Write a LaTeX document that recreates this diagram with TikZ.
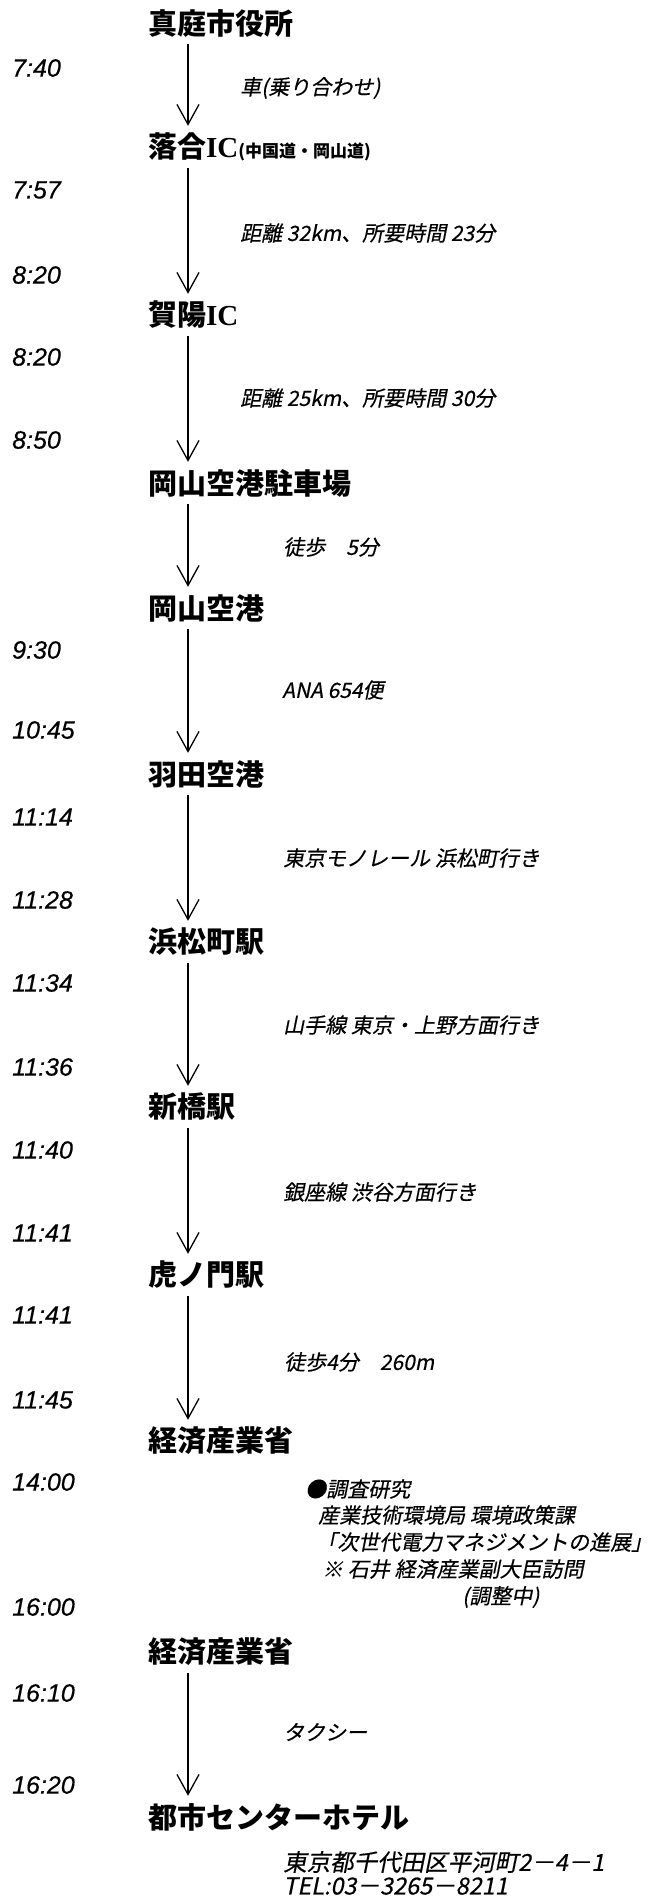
\documentclass[tikz,border=0pt]{standalone}
\usepackage{fontspec}
\usetikzlibrary{arrows.meta}
\setmainfont{Liberation Sans}
\newfontfamily\jpfont{Noto Sans CJK JP}
\newfontfamily\jpit[FakeSlant=0.2,FakeBold=0.4]{Noto Sans CJK JP}
\newfontfamily\timefont[FakeBold=0.4]{Liberation Sans}
\newfontfamily\icfont{Liberation Serif}
\tikzset{
  station/.style={anchor=west, inner sep=0pt, minimum height=42pt, font=\jpfont\bfseries\fontsize{29}{29}\selectfont},
  timelbl/.style={anchor=west, inner sep=0pt, font=\timefont\itshape\fontsize{25}{25}\selectfont},
  route/.style={anchor=west, inner sep=0pt, font=\jpit\fontsize{21}{21}\selectfont},
  addr/.style={route, font=\jpit\fontsize{23.5}{23.5}\selectfont},
  arr/.style={line width=1.3pt, -{Straight Barb[length=20pt,width=22pt,line width=1.3pt]}},
}
\begin{document}
\begin{tikzpicture}[x=1pt,y=-1pt]
\fill[white] (0,0) rectangle (657,1902);
\useasboundingbox (0,0) rectangle (657,1902);
\coordinate (ax) at (188,0);
% stations
\node[station] (s1) at (148,23) {真庭市役所};
\node[station] (s2) at (148,147) {落合{\icfont\bfseries IC}{\fontsize{17}{17}\selectfont(中国道・岡山道)}};
\node[station] (s3) at (148,315) {賀陽{\icfont\bfseries IC}};
\node[station] (s4) at (148,483) {岡山空港駐車場};
\node[station] (s5) at (148,608) {岡山空港};
\node[station] (s6) at (148,774) {羽田空港};
\node[station] (s7) at (148,942) {浜松町駅};
\node[station] (s8) at (148,1107) {新橋駅};
\node[station] (s9) at (148,1275) {虎ノ門駅};
\node[station] (s10) at (148,1441) {経済産業省};
\node[station] (s11) at (148,1652) {経済産業省};
\node[station] (s12) at (148,1817) {都市センターホテル};
% arrows
\draw[arr] (s1.south -| ax) -- (s2.north -| ax);
\draw[arr] (s2.south -| ax) -- (s3.north -| ax);
\draw[arr] (s3.south -| ax) -- (s4.north -| ax);
\draw[arr] (s4.south -| ax) -- (s5.north -| ax);
\draw[arr] (s5.south -| ax) -- (s6.north -| ax);
\draw[arr] (s6.south -| ax) -- (s7.north -| ax);
\draw[arr] (s7.south -| ax) -- (s8.north -| ax);
\draw[arr] (s8.south -| ax) -- (s9.north -| ax);
\draw[arr] (s9.south -| ax) -- (s10.north -| ax);
\draw[arr] (s11.south -| ax) -- (s12.north -| ax);
% times
\node[timelbl] (t1) at (12,68) {7:40};
\node[timelbl] (t2) at (12,190) {7:57};
\node[timelbl] (t3) at (12,275) {8:20};
\node[timelbl] (t4) at (12,357) {8:20};
\node[timelbl] (t5) at (12,440) {8:50};
\node[timelbl] (t6) at (12,650) {9:30};
\node[timelbl] (t7) at (12,730) {10:45};
\node[timelbl] (t8) at (12,817) {11:14};
\node[timelbl] (t9) at (12,900) {11:28};
\node[timelbl] (t10) at (12,983) {11:34};
\node[timelbl] (t11) at (12,1067) {11:36};
\node[timelbl] (t12) at (12,1150) {11:40};
\node[timelbl] (t13) at (12,1233) {11:41};
\node[timelbl] (t14) at (12,1315) {11:41};
\node[timelbl] (t15) at (12,1400) {11:45};
\node[timelbl] (t16) at (12,1482) {14:00};
\node[timelbl] (t17) at (12,1607) {16:00};
\node[timelbl] (t18) at (12,1693) {16:10};
\node[timelbl] (t19) at (12,1785) {16:20};
% route labels
\node[route] (r1) at (240,88) {車(乗り合わせ)};
\node[route] (r2) at (240,233) {距離 32km、所要時間 23分};
\node[route] (r3) at (240,398) {距離 25km、所要時間 30分};
\node[route] (r4) at (283,547) {徒歩　5分};
\node[route] (r5) at (282,690) {ANA 654便};
\node[route] (r6) at (283,858) {東京モノレール 浜松町行き};
\node[route] (r7) at (283,1025) {山手線 東京・上野方面行き};
\node[route] (r8) at (283,1192) {銀座線 渋谷方面行き};
\node[route] (r9) at (284,1362) {徒歩4分　260m};
\node[route] (n1) at (305,1489) {●調査研究};
\node[route] (n2) at (318,1515) {産業技術環境局 環境政策課};
\node[route] (n3) at (316,1542) {「次世代電力マネジメントの進展」};
\node[route] (n4) at (322,1569) {※ 石井 経済産業副大臣訪問};
\node[route] (n5) at (462,1597) {(調整中)};
\node[route] (r10) at (283,1732) {タクシー};
\node[addr] (a1) at (283,1862) {東京都千代田区平河町2－4－1};
\node[addr] (a2) at (283,1886) {TEL:03－3265－8211};
\end{tikzpicture}
\end{document}
